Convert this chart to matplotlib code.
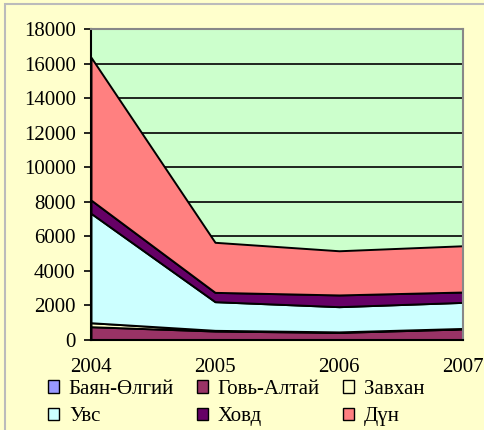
import matplotlib
matplotlib.use("Agg")
import matplotlib.pyplot as plt
from matplotlib.patches import Patch, Rectangle

years = ["2004", "2005", "2006", "2007"]
series_names = ["Баян-Өлгий", "Говь-Алтай", "Завхан", "Увс", "Ховд", "Дүн"]
bayan_olgii = [0, 0, 0, 0]
govi_altai = [770, 520, 440, 640]
zavkhan = [230, 40, 30, 30]
uvs = [6340, 1660, 1460, 1510]
khovd = [770, 540, 680, 600]
dun = [8270, 2900, 2560, 2680]
colors = ["#9999FF", "#993366", "#FFFFCC", "#CCFFFF", "#660066", "#FF8080"]
y_ticks = [0, 2000, 4000, 6000, 8000, 10000, 12000, 14000, 16000, 18000]

plt.rcParams["font.family"] = ["Liberation Serif", "DejaVu Serif"]

fig = plt.figure(figsize=(4.84, 4.30), dpi=100)
fig.patch.set_facecolor("#FFFFCC")
# thin grey frame round the chart area
fig.patches.append(Rectangle((5 / 484, -0.1), 1.2, 1 - 4 / 430 + 0.1,
                             transform=fig.transFigure, facecolor="none",
                             edgecolor="#BBBBBB", linewidth=1.5, zorder=0))

ax = fig.add_axes([91 / 484, 1 - 340 / 430, (463 - 91) / 484, (340 - 29.3) / 430])
ax.set_facecolor("#CCFFCC")

x = list(range(len(years)))
ax.stackplot(x, bayan_olgii, govi_altai, zavkhan, uvs, khovd, dun,
             colors=colors, edgecolor="black", linewidth=1.4, zorder=3)

ax.set_xlim(0, 3)
ax.set_ylim(0, 18000)
ax.set_yticks(y_ticks)
ax.set_yticklabels([str(v) for v in y_ticks])
ax.set_xticks(x)
ax.set_xticklabels(years)
ax.yaxis.grid(True, color="black", linewidth=1.2, zorder=1)
ax.set_axisbelow(True)

ax.tick_params(axis="y", length=5, width=1.2, pad=6, labelsize=15)
ax.tick_params(axis="x", length=0, pad=13, labelsize=15)

ax.spines["left"].set_color("black")
ax.spines["left"].set_linewidth(1.5)
ax.spines["bottom"].set_color("black")
ax.spines["bottom"].set_linewidth(1.5)
ax.spines["top"].set_color("#888888")
ax.spines["top"].set_linewidth(1.5)
ax.spines["right"].set_color("#888888")
ax.spines["right"].set_linewidth(1.5)
for s in ax.spines.values():
    s.set_zorder(5)

# legend fills column by column, so order entries to read row by row
order = [0, 3, 1, 4, 2, 5]
handles = [Patch(facecolor=colors[i], edgecolor="black", linewidth=1.0) for i in order]
labels = [series_names[i] for i in order]
fig.legend(handles, labels, ncol=3, loc="upper left",
           bbox_to_anchor=(48 / 484, 1 - 380 / 430), frameon=False,
           borderaxespad=0, borderpad=0,
           fontsize=15, handlelength=0.55, handleheight=0.55, handletextpad=0.45,
           columnspacing=1.1, labelspacing=0.4)

fig.savefig("out.png", dpi=100, facecolor=fig.get_facecolor())
